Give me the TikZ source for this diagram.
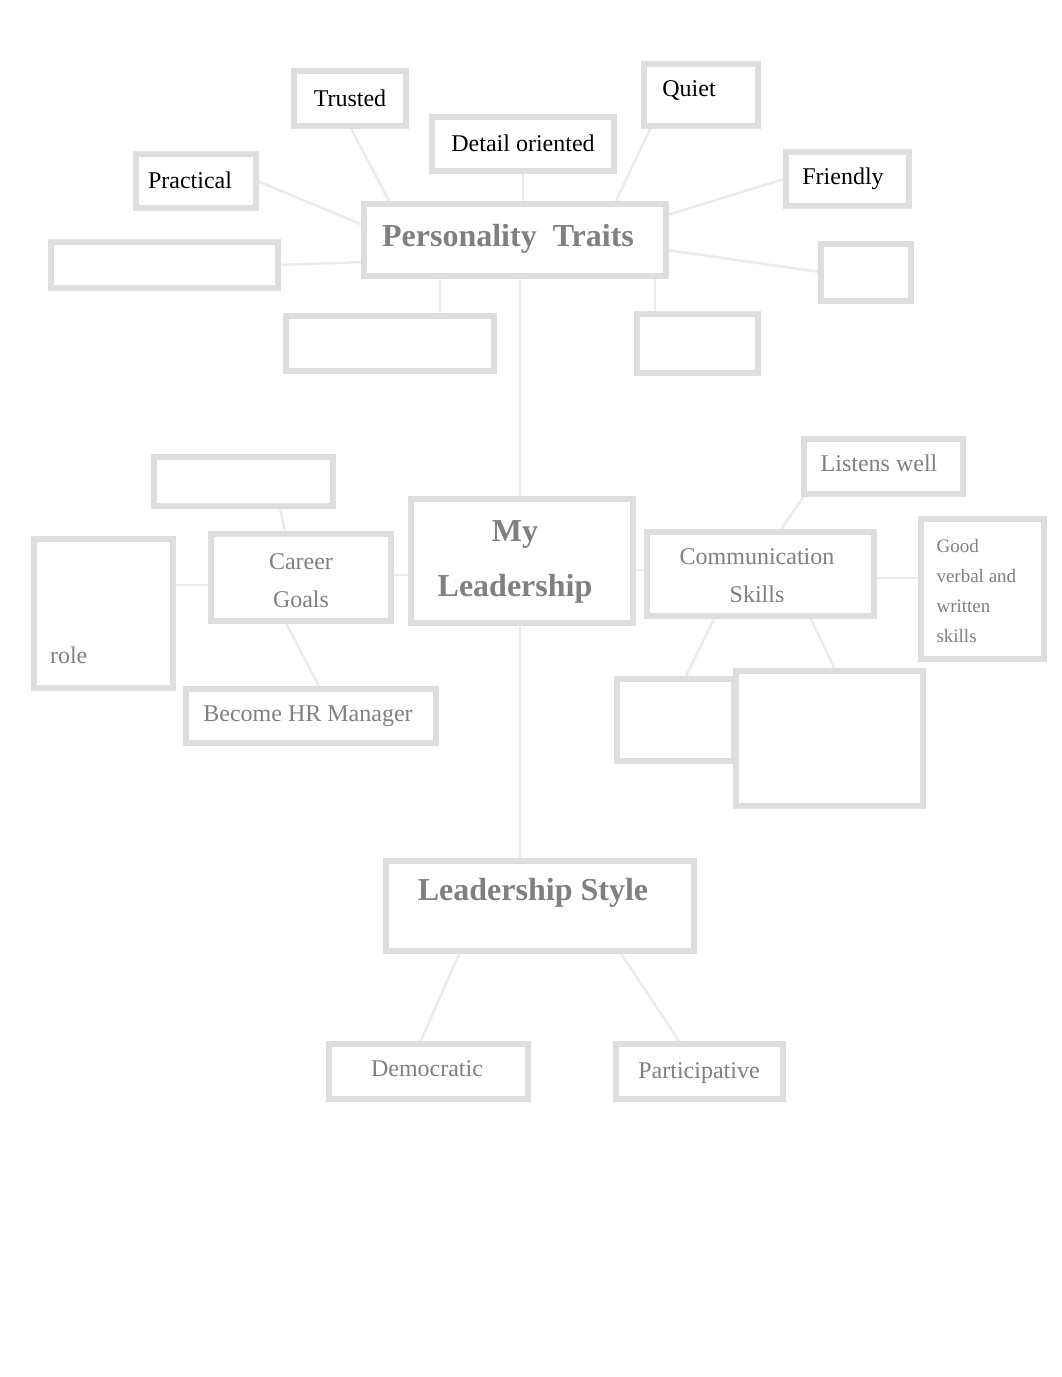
\documentclass[tikz,border=0pt]{standalone}
\usepackage{fontspec}
\setmainfont{Liberation Serif}
\tikzset{
  box/.style={draw=black!13, line width=4pt, fill=white, inner sep=0pt, anchor=center},
  outline/.style={draw=black!13, line width=4pt},
  clear/.style={font=\fontsize{24}{28}\selectfont, text=black},
  blur/.style={font=\fontsize{24}{38}\selectfont, text=black!50, align=center},
  title/.style={font=\fontsize{32}{55}\selectfont\bfseries, text=black!50, align=center},
  link/.style={draw=cyan!25!black!10, line width=2.5pt},
}
\begin{document}
\begin{tikzpicture}[x=1pt,y=-1pt]
\useasboundingbox (0,0) rectangle (1062,1377);
% boxes
\node[box, minimum width=110, minimum height=53] (trusted) at (350,98) {};
\node[box, minimum width=180, minimum height=52] (detail) at (523,144) {};
\node[box, minimum width=112, minimum height=60] (quiet) at (701,95) {};
\node[box, minimum width=118, minimum height=52] (practical) at (196,181) {};
\node[box, minimum width=121, minimum height=52] (friendly) at (847,179) {};
\node[box, minimum width=300, minimum height=70] (pers) at (515,240) {};
\node[box, minimum width=225, minimum height=44] (emptyl) at (164,265) {};
\node[box, minimum width=88, minimum height=55] (emptyr) at (866,272) {};
\node[box, minimum width=206, minimum height=53] (emptybl) at (390,343) {};
\node[box, minimum width=119, minimum height=57] (emptybr) at (697,343) {};
\node[box, minimum width=220, minimum height=122] (myl) at (522,561) {};
\node[box, minimum width=177, minimum height=47] (emptyc) at (243,481) {};
\node[box, minimum width=178, minimum height=85] (career) at (301,577) {};
\node[box, minimum width=137, minimum height=147] (role) at (103,613) {};
\node[box, minimum width=248, minimum height=52] (hr) at (311,716) {};
\node[box, minimum width=157, minimum height=53] (listens) at (883,466) {};
\node[box, minimum width=225, minimum height=82] (comm) at (760,574) {};
\node[box, minimum width=121, minimum height=138] (verbal) at (982,589) {};
\node[box, minimum width=115, minimum height=80] (emptys) at (675,720) {};
\node[box, minimum width=185, minimum height=133] (emptyL) at (829,738) {};
\node[box, minimum width=306, minimum height=88] (lstyle) at (540,906) {};
\node[box, minimum width=197, minimum height=53] (demo) at (428,1071) {};
\node[box, minimum width=165, minimum height=53] (part) at (699,1071) {};

% connectors
\draw[link] (trusted.south) -- ([xshift=-125]pers.north);
\draw[link] (detail.south) -- ([xshift=8]pers.north);
\draw[link] ([xshift=-50]quiet.south) -- ([xshift=100]pers.north);
\draw[link] (practical.east) -- ([yshift=15]pers.west);
\draw[link] (friendly.west) -- ([yshift=25]pers.east);
\draw[link] (emptyl.east) -- ([yshift=-22]pers.west);
\draw[link] (emptyr.west) -- ([yshift=-10]pers.east);
\draw[link] ([xshift=50]emptybl.north) -- ([xshift=-75]pers.south);
\draw[link] ([xshift=-42]emptybr.north) -- ([xshift=140]pers.south);
\draw[link] ([xshift=5]pers.south) -- ([xshift=-2]myl.north);
\draw[link] ([xshift=-2]myl.south) -- ([xshift=-20]lstyle.north);
\draw[link] ([yshift=2]career.east) -- ([yshift=-14]myl.west);
\draw[link] ([yshift=28]role.east) -- ([yshift=-8]career.west);
\draw[link] ([xshift=37]emptyc.south) -- ([xshift=-16]career.north);
\draw[link] ([xshift=-16]career.south) -- ([xshift=9]hr.north);
\draw[link] ([yshift=-9]myl.east) -- ([yshift=4]comm.west);
\draw[link] ([xshift=-78]listens.south) -- ([xshift=20]comm.north);
\draw[link] ([yshift=-4]comm.east) -- ([yshift=11]verbal.west);
\draw[link] ([xshift=-45]comm.south) -- ([xshift=10]emptys.north);
\draw[link] ([xshift=50]comm.south) -- ([xshift=6]emptyL.north);
\draw[link] ([xshift=-80]lstyle.south) -- ([xshift=-8]demo.north);
\draw[link] ([xshift=80]lstyle.south) -- ([xshift=-19]part.north);

% redraw outlines on top to cover link ends
\foreach \n in {trusted,detail,quiet,practical,friendly,pers,emptyl,emptyr,emptybl,emptybr,myl,emptyc,career,role,hr,listens,comm,verbal,emptys,emptyL,lstyle,demo,part}
  \draw[outline] (\n.north west) rectangle (\n.south east);

% texts
\node[clear] (ttrusted) at (trusted.center) {Trusted};
\node[clear] (tdetail) at ([yshift=1]detail.center) {Detail oriented};
\node[clear] (tquiet) at ([xshift=-12,yshift=5]quiet.center) {Quiet};
\node[clear] (tpractical) at ([xshift=-6,yshift=1]practical.center) {Practical};
\node[clear] (tfriendly) at ([xshift=-4,yshift=0]friendly.center) {Friendly};
\node[title] (tpers) at ([xshift=-7,yshift=1]pers.center) {Personality\ \ Traits};
\node[title] (tmyl) at ([xshift=-7,yshift=-1]myl.center) {My\\Leadership};
\node[blur] (tcareer) at ([yshift=-4]career.center) {Career\\Goals};
\node[blur, anchor=base west] (trole) at ([xshift=14]role.west |- 0,663) {role};
\node[blur] (thr) at ([xshift=-3,yshift=0]hr.center) {Become HR Manager};
\node[blur] (tlistens) at ([xshift=-4,yshift=3]listens.center) {Listens well};
\node[blur] (tcomm) at ([xshift=-3,yshift=-2]comm.center) {Communication\\Skills};
\node[blur, font=\fontsize{19}{30}\selectfont, align=left, anchor=north west] (tverbal) at (933,536) {Good\\verbal and\\written\\skills};
\node[title] (tlstyle) at ([xshift=-7,yshift=13]lstyle.center) {Leadership Style};
\node[blur] (tdemo) at ([xshift=-1,yshift=2]demo.center) {Democratic};
\node[blur] (tpart) at ([yshift=-2]part.center) {Participative};
\end{tikzpicture}
\end{document}
